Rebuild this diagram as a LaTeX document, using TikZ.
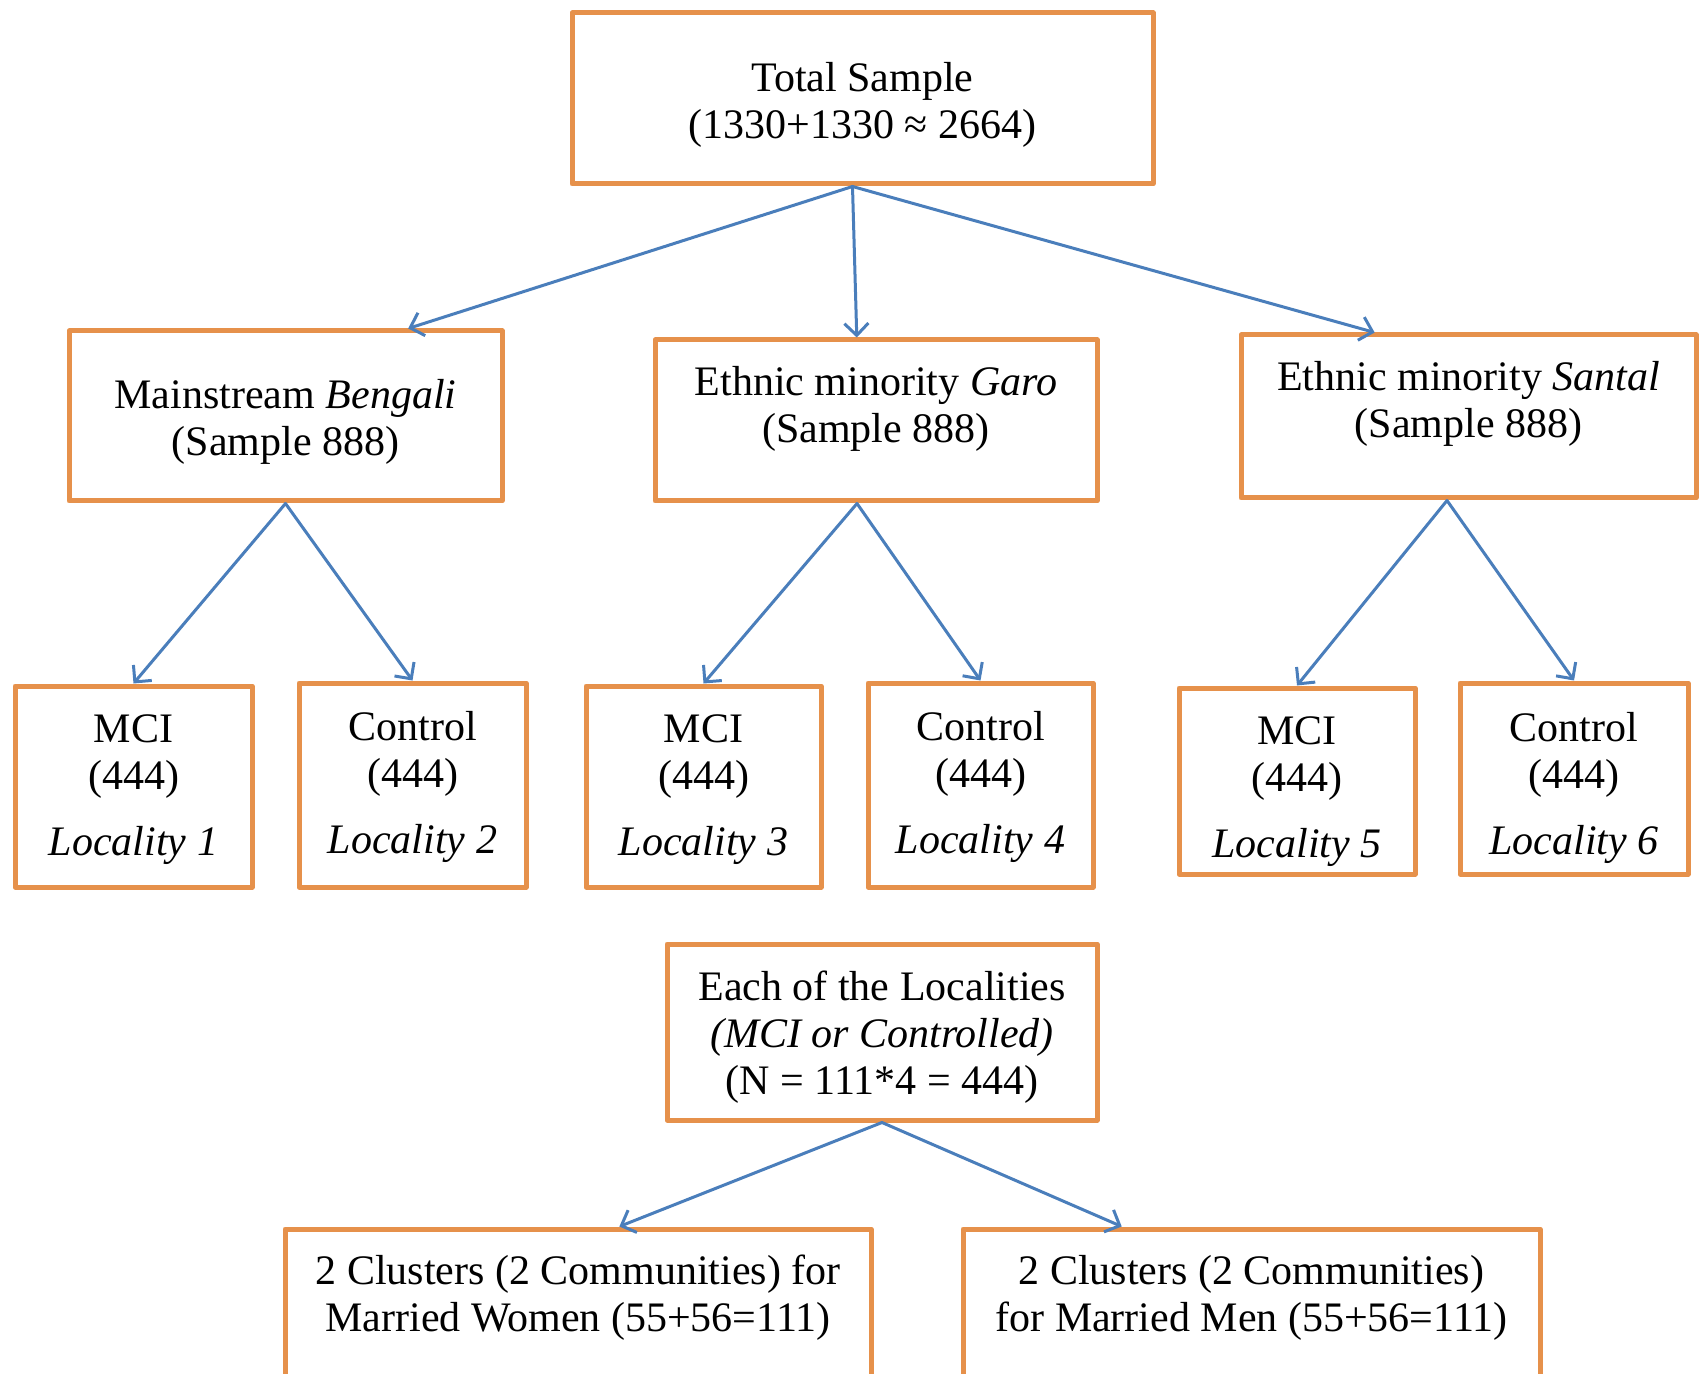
\documentclass[tikz,border=0pt]{standalone}
\usepackage{fontspec}
\setmainfont{Liberation Serif}
\usepackage{tikz}
\usetikzlibrary{calc}
\usetikzlibrary{arrows.meta}
\definecolor{boxorange}{RGB}{230,145,75}
\definecolor{arrowblue}{RGB}{74,126,187}
\newcommand{\lowdepth}[1]{\rule[-#1]{0pt}{#1}}
\newcommand{\upstrut}[1]{\rule{0pt}{#1}}
\tikzset{every node/.style={font=\fontsize{21}{23.5}\selectfont},
         sbox/.style={draw=boxorange,line width=2.5pt,fill=white,align=center,inner sep=0pt},
         sarrow/.style={-{Straight Barb[length=6pt,width=12pt]},draw=arrowblue,line width=1.5pt}}

\begin{document}
\begin{tikzpicture}[line cap=round,line join=round,x=1pt,y=1pt]
                    \useasboundingbox (0,0) rectangle (850.5,686.5);
                    \clip (0,0) rectangle (850.5,686.5);
                    % levels
                    \node[sbox,minimum width=290.5pt,minimum height=85.5pt] (total) at (431.25,637.25) {\upstrut{20.5pt}Total Sample\\(1330+1330 ≈ 2664)};
                    \node[sbox,minimum width=216.5pt,minimum height=85pt] (beng) at (142.75,478.5) {\upstrut{20pt}Mainstream \textit{Bengali}\\(Sample 888)};
                    \node[sbox,minimum width=221pt,minimum height=80.5pt] (garo) at (438,476.25) {\upstrut{17.5pt}Ethnic minority \textit{Garo}\\(Sample 888)\lowdepth{19pt}};
                    \node[sbox,minimum width=227.5pt,minimum height=81.5pt] (santal) at (734.25,478.25) {\upstrut{17pt}Ethnic minority \textit{Santal}\\(Sample 888)\lowdepth{19pt}};
                    \node[sbox,minimum width=118.5pt,minimum height=100.5pt] (mci1) at (66.75,293.25) {\upstrut{17pt}MCI\\(444)\\[9.5pt]\textit{Locality 1}};
                    \node[sbox,minimum width=113.5pt,minimum height=102pt] (ctl2) at (206.25,294) {\upstrut{17pt}Control\\(444)\\[9.5pt]\textit{Locality 2}};
                    \node[sbox,minimum width=117.5pt,minimum height=100.5pt] (mci3) at (351.75,293.25) {\upstrut{17pt}MCI\\(444)\\[9.5pt]\textit{Locality 3}};
                    \node[sbox,minimum width=112.5pt,minimum height=102pt] (ctl4) at (490.25,294) {\upstrut{17pt}Control\\(444)\\[9.5pt]\textit{Locality 4}};
                    \node[sbox,minimum width=118pt,minimum height=93pt] (mci5) at (648.5,296) {\upstrut{24.5pt}MCI\\(444)\\[9.5pt]\textit{Locality 5}};
                    \node[sbox,minimum width=114pt,minimum height=95.5pt] (ctl6) at (787,297.25) {\upstrut{24pt}Control\\(444)\\[9.5pt]\textit{Locality 6}};
                    \node[sbox,minimum width=215pt,minimum height=88pt] (each) at (441,170.5) {\upstrut{19.5pt}Each of the Localities\\\textit{(MCI or Controlled)}\\(N = 111*4 = 444)};
                    \node[sbox,minimum width=293pt,minimum height=85.5pt] (women) at (289,29.25) {\upstrut{18pt}2 Clusters (2 Communities) for\\Married Women (55+56=111)\lowdepth{25pt}};
                    \node[sbox,minimum width=288.5pt,minimum height=85.5pt] (men) at (625.75,29.25) {\upstrut{18pt}2 Clusters (2 Communities)\\for Married Men (55+56=111)\lowdepth{25pt}};
                    % arrows
                    \coordinate (tsrc) at ($(total.south)+(-5,0)$);
                    \coordinate (gsrc) at ($(garo.south)+(-9.5,0)$);
                    \coordinate (ssrc) at ($(santal.south)+(-10.75,0)$);
                    \draw[sarrow] (tsrc) -- ($(beng.north west)!0.78!(beng.north east)$);
                    \draw[sarrow] (tsrc) -- ($(garo.north west)!0.457!(garo.north east)$);
                    \draw[sarrow] (tsrc) -- ($(santal.north west)!0.296!(santal.north east)$);
                    \draw[sarrow] (beng.south) -- (mci1.north);
                    \draw[sarrow] (beng.south) -- (ctl2.north);
                    \draw[sarrow] (gsrc) -- (mci3.north);
                    \draw[sarrow] (gsrc) -- (ctl4.north);
                    \draw[sarrow] (ssrc) -- (mci5.north);
                    \draw[sarrow] (ssrc) -- (ctl6.north);
                    \draw[sarrow] (each.south) -- ($(women.north west)!0.57!(women.north east)$);
                    \draw[sarrow] (each.south) -- ($(men.north west)!0.277!(men.north east)$);
\end{tikzpicture}
\end{document}
